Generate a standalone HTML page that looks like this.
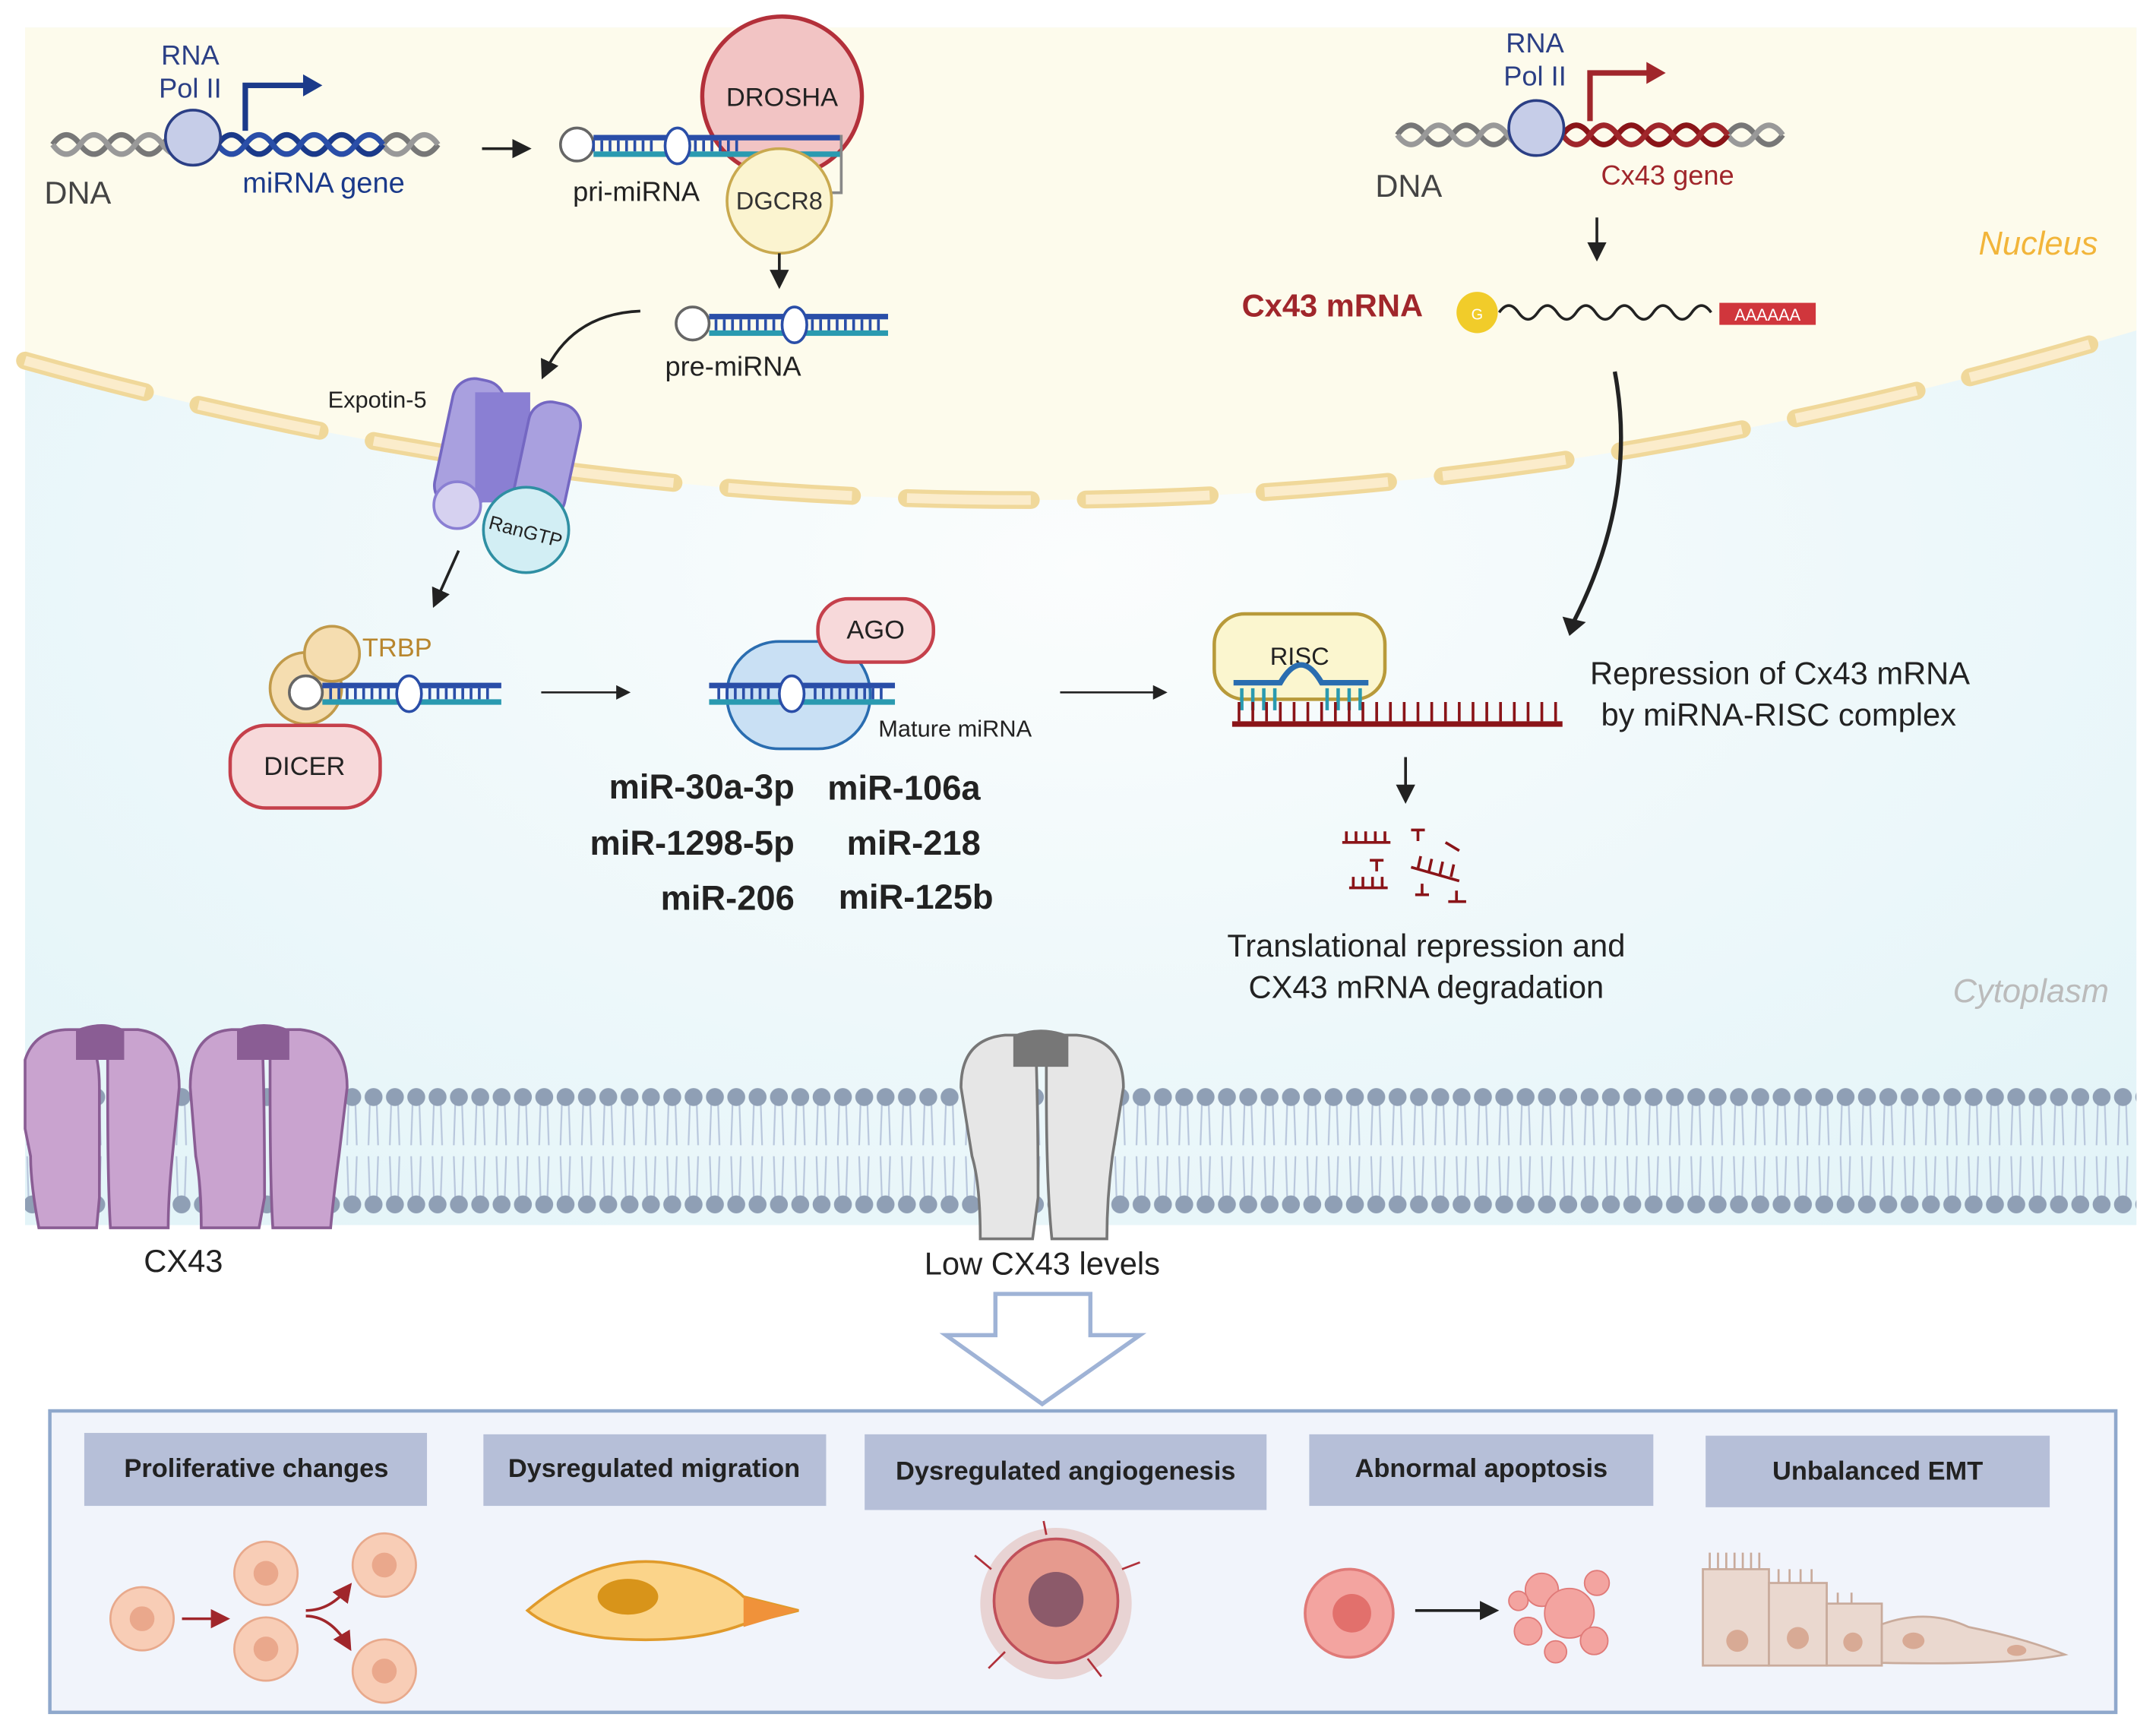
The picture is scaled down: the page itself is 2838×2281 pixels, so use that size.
<!DOCTYPE html>
<html><head><meta charset="utf-8"><style>
html,body{margin:0;padding:0;background:#fff}
svg{display:block}
text{font-family:"Liberation Sans",sans-serif}
</style></head><body>
<svg width="2838" height="2281" viewBox="0 0 1566 1259" xmlns="http://www.w3.org/2000/svg">
<defs>
<radialGradient id="cyto" cx="0.5" cy="0.45" r="0.7"><stop offset="0" stop-color="#fbfdfd"/><stop offset="1" stop-color="#e3f4f8"/></radialGradient>
<marker id="ah" markerWidth="7" markerHeight="7" refX="5" refY="3.5" orient="auto"><path d="M0,0 L7,3.5 L0,7z" fill="#222"/></marker>
<marker id="ahr" markerWidth="7" markerHeight="7" refX="5" refY="3.5" orient="auto"><path d="M0,0 L7,3.5 L0,7z" fill="#a0262b"/></marker>
<pattern id="lip" x="0" y="788" width="15.5" height="96" patternUnits="userSpaceOnUse">
<path d="M5,14 L4,44 M10,14 L11,44 M5,82 L4,52 M10,82 L11,52" stroke="#b8c6dc" stroke-width="1.2" fill="none"/>
<circle cx="7.7" cy="9" r="6.5" fill="#8f9fb5"/><circle cx="7.7" cy="87" r="6.5" fill="#8f9fb5"/>
</pattern>
</defs>
<rect x="18" y="20" width="1534" height="870" fill="url(#cyto)"/>
<path d="M18,20 H1552 V240 Q780,475 18,262 Z" fill="#fdfbec"/>
<path d="M18,262 Q780,475 1552,240" fill="none" stroke="#f0d89a" stroke-width="13" stroke-dasharray="90,40" stroke-linecap="round"/>
<path d="M18,262 Q780,475 1552,240" fill="none" stroke="#fbeccb" stroke-width="7" stroke-dasharray="90,40"/>
<rect x="18" y="788" width="1534" height="96" fill="url(#lip)"/>
<text x="1524" y="185" font-size="24" font-style="italic" fill="#f2b53a" text-anchor="end">Nucleus</text>
<text x="1532" y="728" font-size="24" font-style="italic" fill="#bbb" text-anchor="end">Cytoplasm</text>
<path d="M38,105 q10,-14 20,0 t20,0 t20,0 t20,0 t20,0 t20,0 t20,0 t20,0 t20,0 t20,0 t20,0 t20,0 t20,0 t20,0" fill="none" stroke="#777" stroke-width="4"/>
<path d="M38,105 q10,14 20,0 t20,0 t20,0 t20,0 t20,0 t20,0 t20,0 t20,0 t20,0 t20,0 t20,0 t20,0 t20,0 t20,0" fill="none" stroke="#999" stroke-width="4"/>
<path d="M158,105 q10,-14 20,0 t20,0 t20,0 t20,0 t20,0 t20,0" fill="none" stroke="#1b3a8a" stroke-width="4"/>
<path d="M158,105 q10,14 20,0 t20,0 t20,0 t20,0 t20,0 t20,0" fill="none" stroke="#2a4ea8" stroke-width="4"/>
<circle cx="140" cy="100" r="20" fill="#c6cde8" stroke="#2b3f85" stroke-width="2"/>
<path d="M178,95 V62 H222" fill="none" stroke="#1b3a8a" stroke-width="4"/><path d="M220,54 L234,62 L220,70z" fill="#1b3a8a"/>
<text x="138" y="47" font-size="20" fill="#2b3f85" text-anchor="middle">RNA</text>
<text x="138" y="71" font-size="20" fill="#2b3f85" text-anchor="middle">Pol II</text>
<text x="32" y="148" font-size="23" fill="#444">DNA</text>
<text x="176" y="140" font-size="21" fill="#1b3a8a">miRNA gene</text>
<line x1="350" y1="108" x2="382" y2="108" stroke="#222" stroke-width="2" marker-end="url(#ah)"/>
<circle cx="568" cy="70" r="58" fill="#f2c4c4" stroke="#b3303a" stroke-width="3"/>
<text x="568" y="77" font-size="19" fill="#222" text-anchor="middle">DROSHA</text>
<circle cx="419" cy="105" r="12" fill="#fff" stroke="#666" stroke-width="2"/>
<rect x="431" y="98" width="180" height="4" fill="#2a4ea8"/><rect x="431" y="110" width="180" height="4" fill="#2a9ab0"/>
<path d="M431,102 V110 M437,102 V110 M443,102 V110 M449,102 V110 M455,102 V110 M461,102 V110 M467,102 V110 M473,102 V110 M505,102 V110 M511,102 V110 M517,102 V110 M523,102 V110 M529,102 V110 M535,102 V110" stroke="#2a4ea8" stroke-width="2"/>
<ellipse cx="492" cy="106" rx="9" ry="13" fill="#fff" stroke="#2a4ea8" stroke-width="2"/>
<path d="M611,98 V140 H600" fill="none" stroke="#888" stroke-width="2"/>
<text x="416" y="146" font-size="20" fill="#222">pri-miRNA</text>
<circle cx="566" cy="146" r="38" fill="#fbf4d0" stroke="#c9a94f" stroke-width="2"/>
<text x="566" y="152" font-size="18" fill="#333" text-anchor="middle">DGCR8</text>
<line x1="566" y1="184" x2="566" y2="206" stroke="#222" stroke-width="2" marker-end="url(#ah)"/>
<circle cx="503" cy="235" r="12" fill="#fff" stroke="#666" stroke-width="2"/>
<rect x="515" y="228" width="130" height="4" fill="#2a4ea8"/><rect x="515" y="240" width="130" height="4" fill="#2a9ab0"/>
<path d="M520,232 V240 M526,232 V240 M532,232 V240 M538,232 V240 M544,232 V240 M550,232 V240 M556,232 V240 M562,232 V240 M590,232 V240 M596,232 V240 M602,232 V240 M608,232 V240 M614,232 V240 M620,232 V240 M626,232 V240 M632,232 V240 M638,232 V240" stroke="#2a4ea8" stroke-width="2"/>
<ellipse cx="577" cy="236" rx="9" ry="13" fill="#fff" stroke="#2a4ea8" stroke-width="2"/>
<text x="483" y="273" font-size="20" fill="#222">pre-miRNA</text>
<path d="M465,226 Q415,228 395,272" fill="none" stroke="#222" stroke-width="2" marker-end="url(#ah)"/>
<text x="238" y="296" font-size="17" fill="#222">Expotin-5</text>
<rect x="322" y="275" width="38" height="95" rx="16" fill="#a9a0df" stroke="#7467c2" stroke-width="2" transform="rotate(12 341 322)"/>
<rect x="345" y="285" width="40" height="80" fill="#8a7fd3"/>
<rect x="378" y="292" width="38" height="85" rx="16" fill="#a9a0df" stroke="#7467c2" stroke-width="2" transform="rotate(12 397 335)"/>
<circle cx="332" cy="367" r="17" fill="#d6d1f0" stroke="#8a7fd3" stroke-width="2"/>
<circle cx="382" cy="385" r="31" fill="#d2eef4" stroke="#2f8fa3" stroke-width="2"/>
<text x="382" y="391" font-size="14" fill="#222" text-anchor="middle" transform="rotate(15 382 385)">RanGTP</text>
<line x1="333" y1="400" x2="316" y2="438" stroke="#222" stroke-width="2" marker-end="url(#ah)"/>
<circle cx="222" cy="500" r="26" fill="#f5ddb0" stroke="#c19a4a" stroke-width="2"/>
<circle cx="241" cy="475" r="20" fill="#f5ddb0" stroke="#c19a4a" stroke-width="2"/>
<text x="263" y="477" font-size="19" fill="#b8862e">TRBP</text>
<circle cx="222" cy="503" r="12" fill="#fff" stroke="#666" stroke-width="2"/>
<rect x="234" y="496" width="130" height="4" fill="#2a4ea8"/><rect x="234" y="508" width="130" height="4" fill="#2a9ab0"/>
<path d="M240,500 V508 M246,500 V508 M252,500 V508 M258,500 V508 M264,500 V508 M270,500 V508 M276,500 V508 M282,500 V508 M312,500 V508 M318,500 V508 M324,500 V508 M330,500 V508 M336,500 V508 M342,500 V508 M348,500 V508 M354,500 V508" stroke="#2a4ea8" stroke-width="2"/>
<ellipse cx="297" cy="504" rx="9" ry="13" fill="#fff" stroke="#2a4ea8" stroke-width="2"/>
<rect x="167" y="527" width="109" height="60" rx="26" fill="#f7d9da" stroke="#c5404b" stroke-width="2.5"/>
<text x="221" y="563" font-size="19" fill="#222" text-anchor="middle">DICER</text>
<line x1="393" y1="503" x2="455" y2="503" stroke="#222" stroke-width="1.5" marker-end="url(#ah)"/>
<rect x="528" y="466" width="104" height="78" rx="38" fill="#c9e0f4" stroke="#2a6db0" stroke-width="2"/>
<rect x="594" y="435" width="84" height="46" rx="22" fill="#f7d9da" stroke="#c5404b" stroke-width="2.5"/>
<text x="636" y="464" font-size="19" fill="#222" text-anchor="middle">AGO</text>
<rect x="515" y="496" width="135" height="4" fill="#2a4ea8"/><rect x="515" y="508" width="135" height="4" fill="#2a9ab0"/>
<path d="M522,500 V508 M528,500 V508 M534,500 V508 M540,500 V508 M546,500 V508 M552,500 V508 M558,500 V508 M592,500 V508 M598,500 V508 M604,500 V508 M610,500 V508 M616,500 V508 M622,500 V508 M628,500 V508 M634,500 V508 M640,500 V508" stroke="#2a4ea8" stroke-width="2"/>
<ellipse cx="575" cy="504" rx="9" ry="13" fill="#fff" stroke="#2a4ea8" stroke-width="2"/>
<text x="638" y="535" font-size="17" fill="#222">Mature miRNA</text>
<g font-size="25" font-weight="bold" fill="#222">
<text x="577" y="580" text-anchor="end">miR-30a-3p</text><text x="601" y="581">miR-106a</text>
<text x="577" y="621" text-anchor="end">miR-1298-5p</text><text x="615" y="621">miR-218</text>
<text x="577" y="661" text-anchor="end">miR-206</text><text x="609" y="660">miR-125b</text>
</g>
<line x1="770" y1="503" x2="845" y2="503" stroke="#222" stroke-width="1.5" marker-end="url(#ah)"/>
<path d="M1015,98 q10,-14 20,0 t20,0 t20,0 t20,0 t20,0 t20,0 t20,0 t20,0 t20,0 t20,0 t20,0 t20,0 t20,0 t20,0" fill="none" stroke="#777" stroke-width="4"/>
<path d="M1015,98 q10,14 20,0 t20,0 t20,0 t20,0 t20,0 t20,0 t20,0 t20,0 t20,0 t20,0 t20,0 t20,0 t20,0 t20,0" fill="none" stroke="#999" stroke-width="4"/>
<path d="M1135,98 q10,-14 20,0 t20,0 t20,0 t20,0 t20,0 t20,0" fill="none" stroke="#8a1418" stroke-width="4"/>
<path d="M1135,98 q10,14 20,0 t20,0 t20,0 t20,0 t20,0 t20,0" fill="none" stroke="#a0262b" stroke-width="4"/>
<circle cx="1116" cy="93" r="20" fill="#c6cde8" stroke="#2b3f85" stroke-width="2"/>
<path d="M1155,88 V53 H1198" fill="none" stroke="#a0262b" stroke-width="4"/><path d="M1196,45 L1210,53 L1196,61z" fill="#a0262b"/>
<text x="1115" y="38" font-size="20" fill="#2b3f85" text-anchor="middle">RNA</text>
<text x="1115" y="62" font-size="20" fill="#2b3f85" text-anchor="middle">Pol II</text>
<text x="999" y="143" font-size="23" fill="#444">DNA</text>
<text x="1163" y="134" font-size="20" fill="#a0262b">Cx43 gene</text>
<line x1="1160" y1="158" x2="1160" y2="186" stroke="#222" stroke-width="2" marker-end="url(#ah)"/>
<text x="902" y="230" font-size="23" font-weight="bold" fill="#a0262b">Cx43 mRNA</text>
<circle cx="1073" cy="227" r="15" fill="#f1cc2a"/><text x="1073" y="232" font-size="11" fill="#fff" text-anchor="middle">G</text>
<path d="M1089,227 q7,-10 14,0 t14,0 t14,0 t14,0 t14,0 t14,0 t14,0 t14,0 t14,0 t14,0 t14,0" fill="none" stroke="#222" stroke-width="2"/>
<rect x="1249" y="220" width="70" height="16" fill="#d0363c"/>
<text x="1284" y="233" font-size="12" fill="#fff" text-anchor="middle">AAAAAA</text>
<path d="M1173,270 Q1190,360 1143,452" fill="none" stroke="#222" stroke-width="3"/>
<path d="M1135,448 L1140,462 L1152,452z" fill="#222"/>
<rect x="882" y="446" width="124" height="62" rx="22" fill="#fbf6cf" stroke="#b89a3a" stroke-width="2.5"/>
<text x="944" y="483" font-size="18" fill="#222" text-anchor="middle">RISC</text>
<path d="M896,496 H930 Q945,470 960,496 H994" fill="none" stroke="#2a6db0" stroke-width="4"/>
<path d="M902,500 V516 M910,500 V516 M918,500 V516 M926,500 V516 M964,500 V516 M972,500 V516 M980,500 V516 M988,500 V516" stroke="#2a9ab0" stroke-width="2.5"/>
<rect x="895" y="524" width="240" height="4" fill="#8a1418"/>
<path d="M900,524 V510 M910,524 V510 M920,524 V510 M930,524 V510 M940,524 V510 M950,524 V510 M960,524 V510 M970,524 V510 M980,524 V510 M990,524 V510 M1000,524 V510 M1010,524 V510 M1020,524 V510 M1030,524 V510 M1040,524 V510 M1050,524 V510 M1060,524 V510 M1070,524 V510 M1080,524 V510 M1090,524 V510 M1100,524 V510 M1110,524 V510 M1120,524 V510 M1130,524 V510" stroke="#8a1418" stroke-width="2"/>
<text x="1155" y="497" font-size="23" fill="#222">Repression of Cx43 mRNA</text>
<text x="1163" y="527" font-size="23" fill="#222">by miRNA-RISC complex</text>
<line x1="1021" y1="550" x2="1021" y2="580" stroke="#222" stroke-width="2" marker-end="url(#ah)"/>
<g stroke="#8a1418" stroke-width="2" fill="none">
<path d="M975,612 H1010 M978,612 V604 M985,612 V604 M992,612 V604 M999,612 V604 M1006,612 V604"/>
<path d="M980,645 H1008 M983,645 V637 M990,645 V637 M997,645 V637 M1004,645 V637"/>
<path d="M1025,630 L1060,640 M1030,631 L1032,622 M1038,633 L1040,624 M1046,635 L1048,626 M1054,637 L1056,628"/>
<path d="M1025,603 H1035 M1030,603 V611 M1050,612 L1060,618 M1028,650 H1038 M1033,650 V642 M1052,655 H1065 M1058,655 V647 M995,625 H1005 M1000,625 V633"/>
</g>
<text x="1036" y="695" font-size="23" fill="#222" text-anchor="middle">Translational repression and</text>
<text x="1036" y="725" font-size="23" fill="#222" text-anchor="middle">CX43 mRNA degradation</text>
<g fill="#c9a3cf" stroke="#8a5d94" stroke-width="2">
<path d="M18,770 Q25,748 50,748 L60,748 Q72,760 72,790 V870 L70,892 L28,892 Q22,860 22,840 L18,820Z"/>
<path d="M78,748 H100 Q130,752 130,790 L125,840 Q122,870 122,892 H80 Q78,860 78,790Z"/>
<path d="M138,790 Q138,750 168,748 H190 Q192,790 192,870 L188,892 H146 Q146,860 142,840Z"/>
<path d="M196,748 H218 Q252,752 252,790 L246,840 Q242,870 240,892 H198 Q196,860 196,790Z"/>
</g>
<path d="M55,748 Q75,740 90,748 V770 H55Z M172,748 Q192,740 210,748 V770 H172Z" fill="#8a5d94"/>
<text x="133" y="924" font-size="23" fill="#222" text-anchor="middle">CX43</text>
<g fill="#e6e6e6" stroke="#777" stroke-width="2">
<path d="M698,790 Q698,755 730,752 H752 Q754,800 754,870 L750,900 H712 Q712,860 706,840Z"/>
<path d="M760,752 H782 Q816,755 816,790 L808,840 Q804,870 804,900 H764 Q760,860 760,790Z"/>
</g>
<path d="M736,752 Q756,744 776,752 V775 H736Z" fill="#777"/>
<text x="757" y="926" font-size="23" fill="#222" text-anchor="middle">Low CX43 levels</text>
<path d="M723,940 H792 V970 H828 L757,1020 L687,970 H723Z" fill="#fff" stroke="#9fb3d6" stroke-width="3"/>
<rect x="36" y="1025" width="1501" height="219" fill="#f1f4fb" stroke="#8fa8cc" stroke-width="2.5"/>
<g fill="#b6bfd8">
<rect x="61" y="1041" width="249" height="53"/><rect x="351" y="1042" width="249" height="52"/>
<rect x="628" y="1042" width="292" height="55"/><rect x="951" y="1042" width="250" height="52"/><rect x="1239" y="1043" width="250" height="52"/>
</g>
<g font-size="19" font-weight="bold" fill="#222" text-anchor="middle">
<text x="186" y="1073">Proliferative  changes</text><text x="475" y="1073">Dysregulated migration</text>
<text x="774" y="1075">Dysregulated angiogenesis</text><text x="1076" y="1073">Abnormal apoptosis</text><text x="1364" y="1075">Unbalanced EMT</text>
</g>
<g fill="#f8cdb6" stroke="#e8a98c" stroke-width="1.5">
<circle cx="103" cy="1176" r="23"/><circle cx="193" cy="1143" r="23"/><circle cx="193" cy="1198" r="23"/><circle cx="279" cy="1137" r="23"/><circle cx="279" cy="1214" r="23"/>
</g>
<g fill="#eaa88c"><circle cx="103" cy="1176" r="9"/><circle cx="193" cy="1143" r="9"/><circle cx="193" cy="1198" r="9"/><circle cx="279" cy="1137" r="9"/><circle cx="279" cy="1214" r="9"/></g>
<g stroke="#a0262b" stroke-width="2" fill="none"><path d="M132,1176 H163" marker-end="url(#ahr)"/><path d="M222,1170 Q240,1170 253,1153" marker-end="url(#ahr)"/><path d="M222,1174 Q240,1174 253,1196" marker-end="url(#ahr)"/></g>
<path d="M383,1170 Q430,1130 480,1135 Q520,1140 540,1160 L580,1170 L540,1180 Q500,1195 440,1190 Q400,1185 383,1170Z" fill="#fbd48a" stroke="#e09a2a" stroke-width="2"/>
<path d="M540,1160 L580,1170 L540,1182Z" fill="#f0923a"/>
<ellipse cx="456" cy="1160" rx="22" ry="13" fill="#d8941a"/>
<circle cx="767" cy="1165" r="55" fill="#e8d3d3"/>
<circle cx="767" cy="1163" r="45" fill="#e69a8e" stroke="#c0505a" stroke-width="2"/>
<circle cx="767" cy="1162" r="20" fill="#8c5a6a"/>
<g stroke="#b0303a" stroke-width="1.5" fill="none"><path d="M720,1140 L708,1130 M815,1140 L828,1135 M790,1205 L800,1218 M730,1200 L718,1212 M760,1115 L758,1105"/></g>
<circle cx="980" cy="1172" r="32" fill="#f3a4a0" stroke="#e07a78" stroke-width="2"/>
<circle cx="982" cy="1172" r="14" fill="#e2706c"/>
<line x1="1028" y1="1170" x2="1085" y2="1170" stroke="#222" stroke-width="2" marker-end="url(#ah)"/>
<g fill="#f3a4a0" stroke="#e07a78"><circle cx="1120" cy="1155" r="12"/><circle cx="1140" cy="1172" r="18"/><circle cx="1110" cy="1185" r="10"/><circle cx="1160" cy="1150" r="9"/><circle cx="1158" cy="1192" r="10"/><circle cx="1130" cy="1200" r="8"/><circle cx="1103" cy="1163" r="7"/></g>
<g fill="#ead8cf" stroke="#c9ab9c" stroke-width="1.5">
<rect x="1237" y="1140" width="48" height="70"/><rect x="1285" y="1150" width="42" height="60"/><rect x="1327" y="1165" width="40" height="45"/>
<path d="M1367,1180 Q1400,1168 1430,1182 Q1470,1190 1500,1202 Q1460,1210 1367,1208Z"/>
</g>
<g stroke="#c9ab9c" stroke-width="1.5"><path d="M1242,1140 V1128 M1248,1140 V1128 M1254,1140 V1128 M1260,1140 V1128 M1266,1140 V1128 M1272,1140 V1128 M1278,1140 V1128 M1292,1150 V1140 M1300,1150 V1140 M1308,1150 V1140 M1316,1150 V1140 M1335,1165 V1157 M1345,1165 V1157"/></g>
<g fill="#d8aa95"><circle cx="1262" cy="1192" r="8"/><circle cx="1306" cy="1190" r="8"/><circle cx="1346" cy="1193" r="7"/><ellipse cx="1390" cy="1192" rx="8" ry="6"/><ellipse cx="1465" cy="1199" rx="7" ry="4"/></g>
</svg>
</body></html>
